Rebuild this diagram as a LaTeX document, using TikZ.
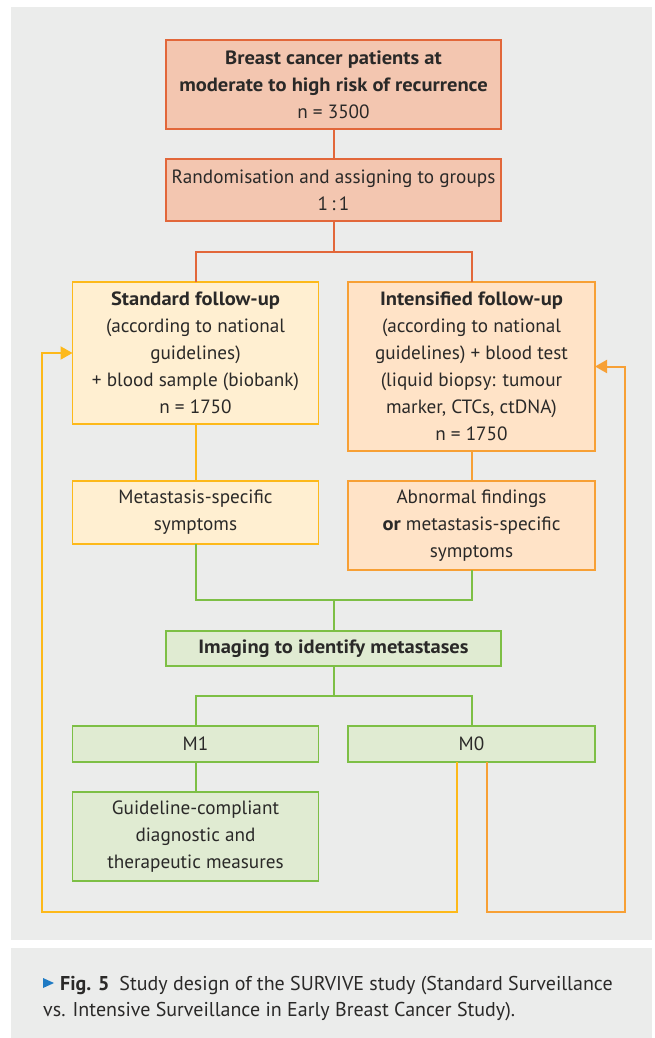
\documentclass[tikz,border=0pt]{standalone}
\usepackage{fontspec}
\setmainfont{PT Sans}[BoldFeatures={FakeStretch=1.07}]
\newfontfamily\capfont{PT Sans}
\usetikzlibrary{arrows.meta}
\definecolor{panelgray}{HTML}{EBECEB}
\definecolor{txt}{HTML}{2A2928}
\definecolor{redb}{HTML}{E2673A}
\definecolor{redf}{HTML}{F3C6B0}
\definecolor{yelb}{HTML}{FDB91A}
\definecolor{yelf}{HTML}{FFEFD1}
\definecolor{orab}{HTML}{F7A035}
\definecolor{oraf}{HTML}{FFE3C7}
\definecolor{greb}{HTML}{7DBF45}
\definecolor{gref}{HTML}{E0EBD2}
\definecolor{capblue}{HTML}{1F7BC4}
\tikzset{
  box/.style={draw, line width=1.3pt, inner sep=0pt, outer sep=0pt, align=center,
    text=txt, font=\fontsize{19.2}{27}\selectfont},
  redbox/.style={box, draw=redb, fill=redf},
  yelbox/.style={box, draw=yelb, fill=yelf},
  orabox/.style={box, draw=orab, fill=oraf},
  grebox/.style={box, draw=greb, fill=gref},
  conn/.style={line width=2pt},
  tipp/.style={-{Triangle[length=12pt,width=13pt]}},
  captext/.style={anchor=base west, inner sep=0pt, text=txt, font=\capfont\fontsize{20}{26}\selectfont},
}
\begin{document}
\begin{tikzpicture}[x=1pt,y=-1pt]
\useasboundingbox (0,0) rectangle (655,1038);
\fill[white] (0,0) rectangle (655,1038);
\fill[panelgray] (10.5,7) rectangle (652,940);
\fill[panelgray] (11,948) rectangle (652,1038);

\node[redbox, minimum width=335pt, minimum height=89pt] (top) at (333.5,84.5)
  {\textbf{Breast cancer patients at}\\\textbf{moderate to high risk of recurrence}\\n = 3500};
\node[redbox, minimum width=335pt, minimum height=62pt] (rand) at (333.5,190)
  {Randomisation and assigning to groups\\1\,:\,1};
\node[yelbox, minimum width=246pt, minimum height=142pt] (std) at (195.5,353)
  {\textbf{Standard follow-up}\\(according to national\\guidelines)\\+ blood sample (biobank)\\n = 1750};
\node[orabox, minimum width=247pt, minimum height=169pt] (int) at (471.5,366.5)
  {\textbf{Intensified follow-up}\\(according to national\\guidelines) + blood test\\(liquid biopsy: tumour\\marker, CTCs, ctDNA)\\n = 1750};
\node[yelbox, minimum width=246pt, minimum height=63pt] (met) at (195.5,512.5)
  {Metastasis-specific\\symptoms};
\node[orabox, minimum width=247pt, minimum height=89pt] (abn) at (471.5,525.5)
  {Abnormal findings\\\textbf{or} metastasis-specific\\symptoms};
\node[grebox, minimum width=335pt, minimum height=35pt] (img) at (333.5,648.5)
  {\textbf{Imaging to identify metastases}};
\node[grebox, minimum width=246pt, minimum height=36pt] (m1) at (195.5,744) {M1};
\node[grebox, minimum width=247pt, minimum height=36pt] (m0) at (471.5,744) {M0};
\node[grebox, minimum width=246pt, minimum height=89pt] (gl) at (195.5,836.5)
  {Guideline-compliant\\diagnostic and\\therapeutic measures};

\coordinate (rj) at (333.5,252);
\coordinate (gj) at (333.5,600);
\coordinate (mj) at (333.5,696);
\coordinate (yb) at (456.5,912);
\coordinate (yc) at (41.5,912);
\coordinate (ob) at (487,912);
\coordinate (oc) at (625,912);

\draw[conn, redb] (top) -- (rand);
\draw[conn, redb] (rand.south) -- (rj);
\draw[conn, redb] (std.north) |- (rj) -| (int.north);
\draw[conn, yelb] (std) -- (met);
\draw[conn, orab] (int) -- (abn);
\draw[conn, greb] (met.south) |- (gj) -| (abn.south);
\draw[conn, greb] (gj) -- (img.north);
\draw[conn, greb] (img.south) -- (mj);
\draw[conn, greb] (m1.north) |- (mj) -| (m0.north);
\draw[conn, greb] (m1) -- (gl);
\draw[conn, yelb, tipp] (yb |- m0.south) -- (yb) -- (yc) |- (std.west);
\draw[conn, orab, tipp] (ob |- m0.south) -- (ob) -- (oc) |- (int.east);

\fill[capblue] (43,978) -- (54,983) -- (43,988) -- cycle;
\node[captext] (cap1) at (60,990)
  {\textbf{Fig. 5}\enspace Study design of the SURVIVE study (Standard Surveillance};
\node[captext] (cap2) at (43,1016)
  {vs. Intensive Surveillance in Early Breast Cancer Study).};
\end{tikzpicture}
\end{document}
